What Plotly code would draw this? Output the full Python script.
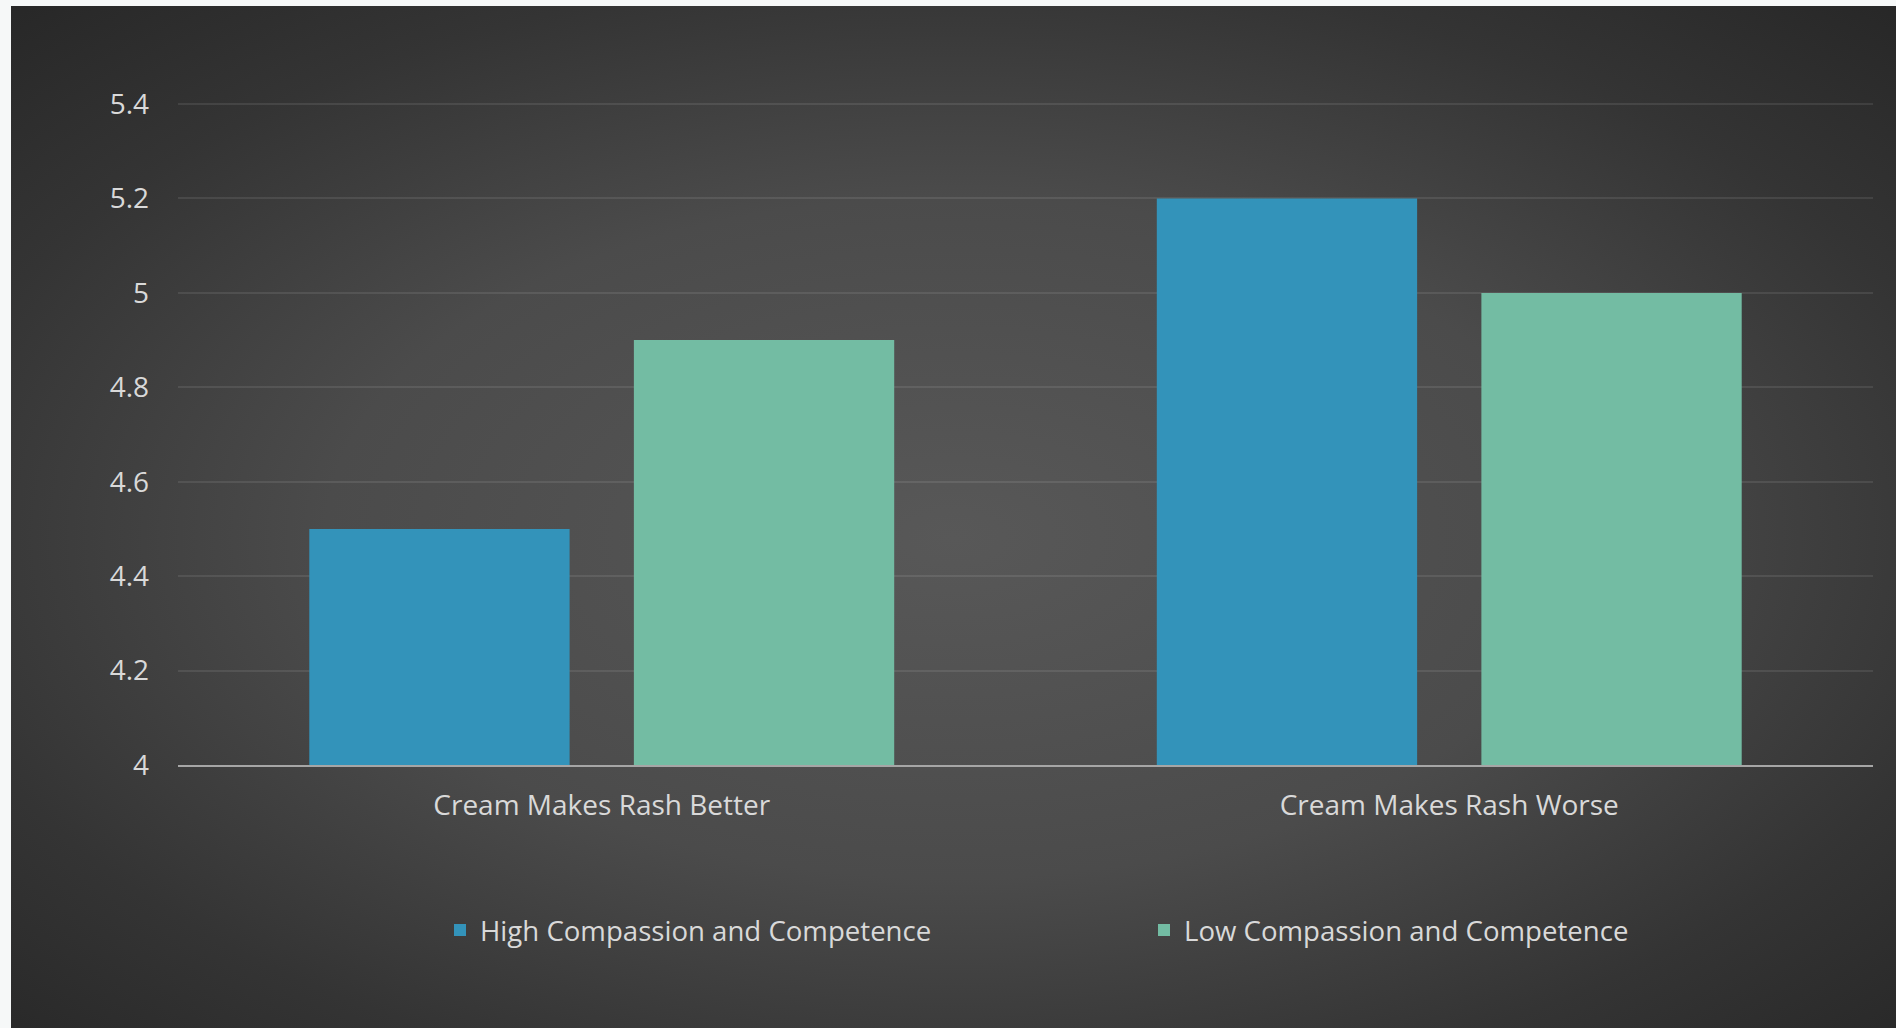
import base64
import plotly.graph_objects as go

# --- data -------------------------------------------------------------
categories = ["Cream Makes Rash Better", "Cream Makes Rash Worse"]
high_values = [4.5, 5.2]
low_values = [4.9, 5.0]
series_names = ["High Compassion and Competence", "Low Compassion and Competence"]
y_ticks = [4, 4.2, 4.4, 4.6, 4.8, 5, 5.2, 5.4]

# --- styling ------------------------------------------------------------
W, H = 1896, 1028
M_L, M_R, M_T, M_B = 178, 23, 102, 263
BLUE = "#3393ba"
GREEN = "#73bca3"
TEXT = "#d9d9d9"
FONT = "Open Sans"

# dark radial-gradient panel drawn behind the plot
panel_left, panel_top = 11, 6
pw, ph = W - panel_left, H - panel_top
svg = f"""<svg xmlns="http://www.w3.org/2000/svg" width="{pw}" height="{ph}" viewBox="0 0 {pw} {ph}" preserveAspectRatio="none">
<defs><radialGradient id="g" cx="0.5" cy="0.52" r="0.74">
<stop offset="0" stop-color="#585858"/>
<stop offset="0.45" stop-color="#4b4b4b"/>
<stop offset="0.75" stop-color="#343434"/>
<stop offset="1" stop-color="#262626"/>
</radialGradient></defs>
<rect width="{pw}" height="{ph}" fill="url(#g)"/></svg>"""
svg_uri = "data:image/svg+xml;base64," + base64.b64encode(svg.encode()).decode()

plot_w = W - M_L - M_R
plot_h = H - M_T - M_B

fig = go.Figure()
fig.add_trace(go.Bar(x=categories, y=high_values, name=series_names[0],
                     marker=dict(color=BLUE, line=dict(width=0)), legend="legend"))
fig.add_trace(go.Bar(x=categories, y=low_values, name=series_names[1],
                     marker=dict(color=GREEN, line=dict(width=0)), legend="legend2"))

legend_common = dict(orientation="h", yanchor="middle", y=(H - M_B - 930) / plot_h,
                     xanchor="left", bgcolor="rgba(0,0,0,0)",
                     font=dict(family=FONT, size=27.6, color=TEXT))

fig.update_layout(
    width=W, height=H,
    margin=dict(l=M_L, r=M_R, t=M_T, b=M_B, pad=0),
    paper_bgcolor="#f6f8f8",
    plot_bgcolor="rgba(0,0,0,0)",
    barmode="group", bargap=0.234, bargroupgap=0.198,
    font=dict(family=FONT, size=28, color=TEXT),
    showlegend=True,
    legend=dict(x=(440 - M_L) / plot_w, **legend_common),
    legend2=dict(x=(1144 - M_L) / plot_w, **legend_common),
    images=[dict(source=svg_uri, xref="paper", yref="paper",
                 x=(panel_left - M_L) / plot_w, y=(H - M_B - panel_top) / plot_h,
                 sizex=pw / plot_w, sizey=ph / plot_h,
                 xanchor="left", yanchor="top", sizing="stretch", layer="below")],
)
fig.update_xaxes(showgrid=False, showline=True, linecolor="#a6a6a6", linewidth=2,
                 ticks="", ticklabelstandoff=14,
                 tickfont=dict(family=FONT, size=28, color=TEXT))
# a little headroom above 5.4 keeps its gridline from being clipped at the edge
fig.update_yaxes(range=[4, 5.4043], tickvals=y_ticks, showgrid=True,
                 gridcolor="rgba(255,255,255,0.09)", gridwidth=2,
                 zeroline=False, showline=False, ticks="", ticklabelstandoff=28,
                 tickfont=dict(family=FONT, size=28, color=TEXT))

fig.write_html("out.html")
